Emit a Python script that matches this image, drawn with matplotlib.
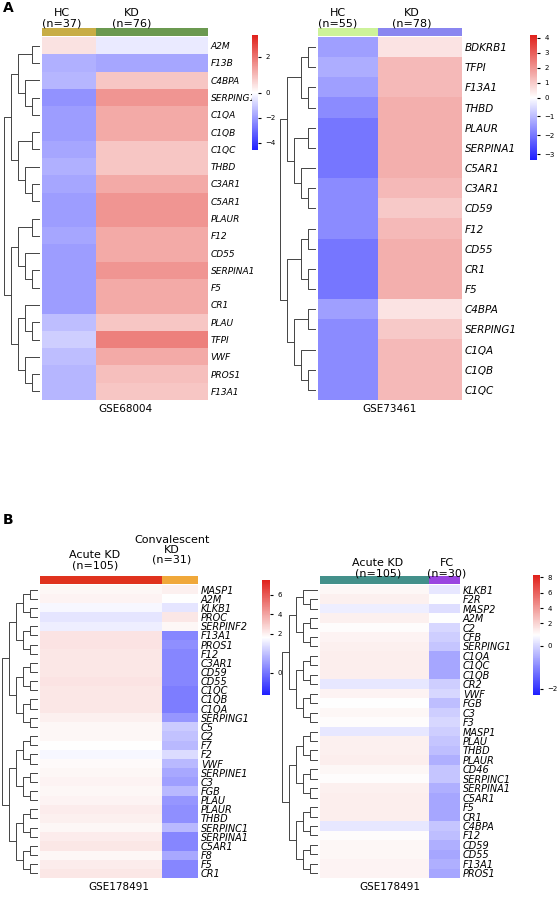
import numpy as np
import matplotlib
matplotlib.use("Agg")
import matplotlib.pyplot as plt
from matplotlib.colors import LinearSegmentedColormap, TwoSlopeNorm

W, H = 557, 900
fig = plt.figure(figsize=(W/100, H/100), dpi=100)
cmap = LinearSegmentedColormap.from_list("bwr2", ["#1f1fff", "#ffffff", "#e0201a"])

# ---------- data: per-gene group means ----------
A1_genes = ["A2M","F13B","C4BPA","SERPING1","C1QA","C1QB","C1QC","THBD","C3AR1","C5AR1",
            "PLAUR","F12","CD55","SERPINA1","F5","CR1","PLAU","TFPI","VWF","PROS1","F13A1"]
A1_hc = [0.4,-1.6,-1.5,-2.2,-2.0,-2.0,-1.8,-1.6,-1.8,-2.0,-2.0,-1.8,-2.0,-2.0,-2.0,-2.0,-1.3,-1.0,-1.3,-1.5,-1.5]
A1_kd = [-0.4,-1.8,0.8,1.5,1.2,1.2,0.8,0.8,1.2,1.5,1.5,1.2,1.2,1.5,1.2,1.2,0.8,1.8,1.2,0.9,0.8]
A1_n = [37, 76]

A2_genes = ["BDKRB1","TFPI","F13A1","THBD","PLAUR","SERPINA1","C5AR1","C3AR1","CD59","F12",
            "CD55","CR1","F5","C4BPA","SERPING1","C1QA","C1QB","C1QC"]
A2_hc = [-1.4,-1.2,-1.4,-1.7,-2.0,-2.0,-2.0,-1.7,-1.7,-1.7,-2.0,-2.0,-2.0,-1.4,-1.7,-1.7,-1.7,-1.7]
A2_kd = [0.5,1.3,1.3,1.5,1.5,1.5,1.5,1.3,1.0,1.3,1.5,1.5,1.5,0.5,1.0,1.3,1.3,1.3]
A2_n = [55, 78]

B1_genes = ["MASP1","A2M","KLKB1","PROC","SERPINF2","F13A1","PROS1","F12","C3AR1","CD59","CD55",
            "C1QC","C1QB","C1QA","SERPING1","C5","C2","F7","F2","VWF","SERPINE1","C3","FGB",
            "PLAU","PLAUR","THBD","SERPINC1","SERPINA1","C5AR1","F8","F5","CR1"]
B1_acute = [1.8,1.9,1.5,1.3,1.4,2.3,2.3,2.2,2.2,2.2,2.3,2.2,2.2,2.2,2.0,1.8,1.8,1.6,1.5,1.7,1.8,1.9,1.8,
            1.9,2.1,2.0,1.8,2.1,2.2,1.8,2.1,2.2]
B1_conv = [2.0,1.6,1.3,2.2,1.8,0.2,0.3,0.2,0.2,0.2,0.2,0.1,0.1,0.1,0.4,1.0,0.9,0.8,1.2,0.8,0.6,0.5,0.8,
           0.4,0.3,0.3,0.8,0.2,0.2,0.6,0.2,0.2]
B1_n = [105, 31]

B2_genes = ["KLKB1","F2R","MASP2","A2M","C2","CFB","SERPING1","C1QA","C1QC","C1QB","CR2","VWF","FGB",
            "C3","F3","MASP1","PLAU","THBD","PLAUR","CD46","SERPINC1","SERPINA1","C5AR1","F5","CR1",
            "C4BPA","F12","CD59","CD55","F13A1","PROS1"]
B2_acute = [0.8,1.0,0.3,1.0,0.6,0.9,1.0,1.1,1.1,1.1,0.2,0.9,0.5,0.8,0.6,0.2,1.0,1.0,1.1,0.8,0.6,1.0,
            1.1,1.1,1.1,0.2,0.6,0.8,0.8,0.9,0.9]
B2_fc = [0.2,0.5,0.1,0.5,0.0,-0.1,-0.2,-0.6,-0.6,-0.6,-0.1,0.0,-0.3,-0.1,0.0,-0.1,-0.2,-0.3,-0.5,-0.2,-0.2,
         -0.5,-0.6,-0.6,-0.6,-0.2,-0.3,-0.5,-0.6,-0.5,-0.6]
B2_n = [105, 30]


def ax_px(x0, y0, x1, y1):
    return fig.add_axes([x0/W, 1 - y1/H, (x1-x0)/W, (y1-y0)/H])


def draw_tree(ax, lo, hi):
    if hi - lo == 1:
        return lo + 0.5, 0.0
    mid = (lo + hi) // 2
    y1, h1 = draw_tree(ax, lo, mid)
    y2, h2 = draw_tree(ax, mid, hi)
    h = max(h1, h2) + 1
    ax.plot([-h1, -h, -h, -h2], [y1, y1, y2, y2], color="#444444", lw=0.7)
    return (y1 + y2) / 2, h


def panel(genes, means, ns, colors, box, cbox, norm, ticks, header_texts, title, fs):
    x0, y0, x1, y1 = box
    mat = np.hstack([np.repeat(np.array(m)[:, None], n, axis=1) for m, n in zip(means, ns)])
    ax = ax_px(x0, y0, x1, y1)
    im = ax.imshow(mat, aspect="auto", cmap=cmap, norm=norm, interpolation="nearest")
    ax.set_xticks([])
    ax.set_yticks(range(len(genes)))
    ax.set_yticklabels(genes, fontstyle="italic", fontsize=fs)
    ax.yaxis.tick_right()
    ax.tick_params(axis="y", length=0, pad=2)
    for s in ax.spines.values():
        s.set_visible(False)
    ax.set_xlabel(title, fontsize=7.5, labelpad=3)
    hb = ax_px(x0, y0 - 9, x1, y0 - 1)
    hb.imshow(np.repeat(np.arange(len(ns)), ns)[None, :], aspect="auto",
              cmap=matplotlib.colors.ListedColormap(colors), interpolation="nearest")
    hb.axis("off")
    for (tx, ty, t) in header_texts:
        fig.text(tx/W, 1 - ty/H, t, ha="center", va="center", fontsize=8, linespacing=1.0)
    da = ax_px(x0 - 40, y0, x0 - 1, y1)
    draw_tree(da, 0, len(genes))
    da.set_ylim(len(genes), 0)
    da.axis("off")
    ca = ax_px(*cbox)
    cb = fig.colorbar(im, cax=ca, ticks=ticks)
    cb.ax.tick_params(labelsize=5, length=2)
    cb.outline.set_visible(False)


panel(A1_genes, [A1_hc, A1_kd], A1_n, ["#c8ad45", "#6b9950"], (42, 37, 208, 400),
      (252, 35, 258, 150), TwoSlopeNorm(0, -4.6, 3.2), [2, 0, -2, -4],
      [(62, 18, "HC\n(n=37)"), (132, 18, "KD\n(n=76)")], "GSE68004", 6.5)
panel(A2_genes, [A2_hc, A2_kd], A2_n, ["#cdf29a", "#8a86f0"], (318, 37, 462, 400),
      (530, 35, 537, 160), TwoSlopeNorm(0, -3.3, 4.2), [4, 3, 2, 1, 0, -1, -2, -3],
      [(338, 18, "HC\n(n=55)"), (412, 18, "KD\n(n=78)")], "GSE73461", 7.5)
panel(B1_genes, [B1_acute, B1_conv], B1_n, ["#e0321e", "#f0a83a"], (40, 585, 198, 878),
      (262, 580, 270, 695), TwoSlopeNorm(1.6, -1.0, 7.5), [6, 4, 2, 0],
      [(95, 560, "Acute KD\n(n=105)"), (172, 550, "Convalescent\nKD\n(n=31)")], "GSE178491", 7)
panel(B2_genes, [B2_acute, B2_fc], B2_n, ["#43908a", "#9a45e0"], (320, 585, 460, 878),
      (533, 575, 540, 695), TwoSlopeNorm(0.5, -2.3, 8.3), [8, 6, 4, 2, 0, -2],
      [(378, 568, "Acute KD\n(n=105)"), (447, 568, "FC\n(n=30)")], "GSE178491", 7)

fig.text(3/W, 1 - 8/H, "A", fontsize=10, fontweight="bold", va="center")
fig.text(3/W, 1 - 520/H, "B", fontsize=10, fontweight="bold", va="center")
fig.savefig("out.png", dpi=100)
